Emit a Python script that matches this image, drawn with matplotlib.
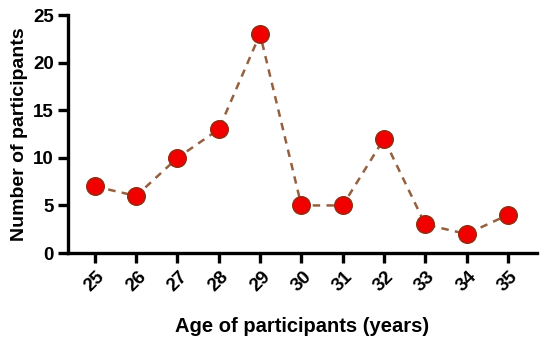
import matplotlib
matplotlib.use("Agg")
import matplotlib.pyplot as plt

# data
ages = [25, 26, 27, 28, 29, 30, 31, 32, 33, 34, 35]
counts = [7, 6, 10, 13, 23, 5, 5, 12, 3, 2, 4]

plt.rcParams["font.family"] = ["Liberation Sans", "DejaVu Sans"]
plt.rcParams["font.weight"] = "bold"

fig = plt.figure(figsize=(5.5, 3.44), dpi=100)
ax = fig.add_axes([0.1236, 0.2645, 0.8524, 0.6915])

ax.plot(ages, counts, linestyle=(0, (3, 2.5)), color="#94603e", linewidth=1.8, zorder=2)
ax.plot(ages, counts, linestyle="none", marker="o", markersize=12.5,
        markerfacecolor="#f20000", markeredgecolor="#9a2a10", markeredgewidth=1.2, zorder=3)

ax.set_xlim(24.35, 35.7)
ax.set_ylim(0, 25)
ax.set_yticks([0, 5, 10, 15, 20, 25])
ax.set_xticks(ages)
ax.set_xticklabels([str(a) for a in ages], rotation=45, fontsize=13.5, fontweight="bold",
                   ha="center", va="top")
for lb in ax.get_yticklabels():
    lb.set_fontsize(13.5)
    lb.set_fontweight("bold")

for side in ["top", "right"]:
    ax.spines[side].set_visible(False)
for side in ["left", "bottom"]:
    ax.spines[side].set_linewidth(2.4)
ax.tick_params(direction="out", width=2.4, length=7, pad=3)
ax.tick_params(axis="x", pad=4)

ax.set_xlabel("Age of participants (years)", fontsize=14.5, fontweight="bold", labelpad=16)
ax.set_ylabel("Number of participants", fontsize=14, fontweight="bold", labelpad=4)

fig.savefig("out.png", dpi=100)
